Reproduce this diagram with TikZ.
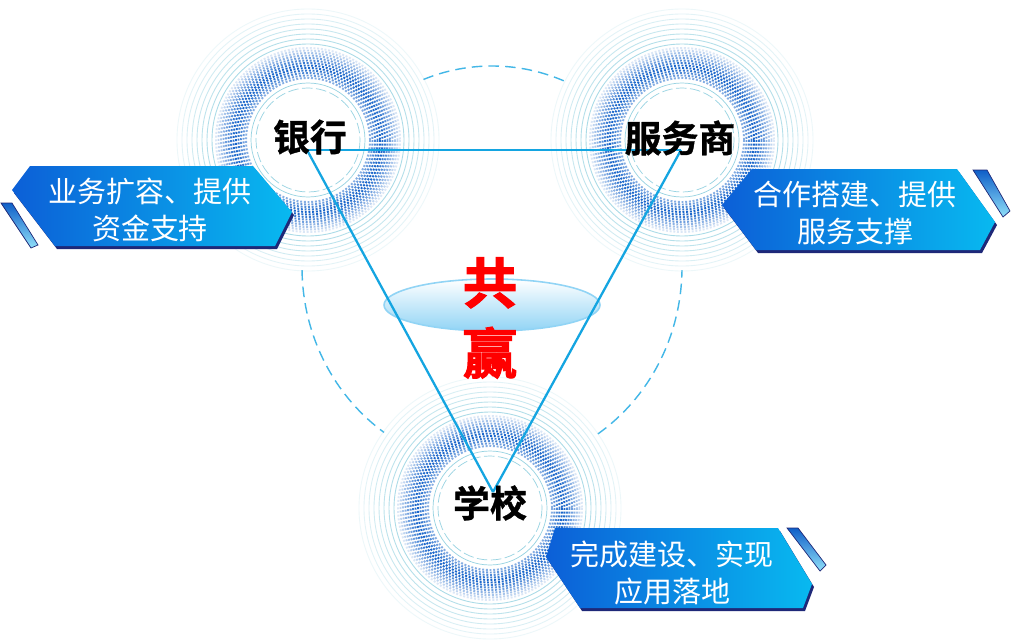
\documentclass[tikz,border=0pt]{standalone}
\usepackage{fontspec}
\newfontfamily\cjk{Noto Sans CJK SC}
\newfontfamily\cjkbold[FakeBold=1]{Noto Sans CJK SC Bold}
\newfontfamily\cjkheavy[FakeBold=2]{Noto Sans CJK SC Bold}
\usetikzlibrary{positioning,calc}
\definecolor{linkblue}{RGB}{20,165,225}
\definecolor{dotblue}{RGB}{15,95,200}
\definecolor{ringcyan}{RGB}{150,210,225}
\definecolor{bandark}{RGB}{12,95,215}
\definecolor{banlight}{RGB}{8,185,240}
\definecolor{bannavy}{RGB}{30,40,120}
\definecolor{lensblue}{RGB}{145,212,245}
\definecolor{winred}{RGB}{255,0,0}

\begin{document}
\begin{tikzpicture}[x=0.02cm, y=-0.02cm,
    hubtext/.style={font=\cjkbold\fontsize{21}{24}\selectfont},
    bantext/.style={font=\cjk\fontsize{16.5}{21.5}\selectfont, text=white, align=center},
    link/.style={linkblue, line width=1.3pt},
    banner/.style={left color=bandark, right color=banlight},
    strip/.style={top color=dotblue, bottom color=banlight!45, draw=bannavy, line width=0.4pt}]
    \fill[white] (0,0) rectangle (1013,642);
    \useasboundingbox (0,0) rectangle (1013,642);

    % dashed orbit behind the three hubs
    \draw[linkblue!80, line width=0.8pt, dash pattern=on 6pt off 3.5pt] (492,267) ellipse (190 and 201);

    % hubs: faint rings, dotted band, inner rings
    \foreach \hx/\hy in {308/140, 682/140, 490/508} {
        \fill[white] (\hx,\hy) circle (130);
        \foreach \r in {96,101,...,131} {
            \pgfmathsetmacro\op{max(0.15,0.8-(\r-96)*0.018)}
            \draw[ringcyan, line width=0.5pt, opacity=\op] (\hx,\hy) circle (\r);
        }
        \foreach \r in {62,64.5,...,94} {
            \pgfmathsetmacro\op{max(0.15,1-abs(\r-73)*0.045)}
            \draw[dotblue, line width=1.1pt, dash pattern=on 1.1pt off 1pt, opacity=\op] (\hx,\hy) circle (\r);
        }
        \draw[ringcyan, line width=0.4pt, dash pattern=on 6pt off 2pt] (\hx,\hy) circle (52);
        \draw[ringcyan, line width=0.4pt] (\hx,\hy) circle (57);
    }

    % banners
    \fill[bannavy] (32,169) -- (14,193) -- (57,249) -- (277,249) -- (294,215) -- (255,169) -- cycle;
    \shade[banner] (30,166) -- (12,190) -- (55,246) -- (275,246) -- (292,212) -- (253,166) -- cycle;
    \shade[strip] (1,203) -- (12,203) -- (38,245) -- (31,248) -- cycle;
    \node[bantext] (leftnote) at (150,210) {业务扩容、提供\\资金支持};

    \fill[bannavy] (754,172) -- (724,208) -- (758,253) -- (982,253) -- (997,225) -- (959,172) -- cycle;
    \shade[banner] (752,169) -- (722,205) -- (756,250) -- (980,250) -- (995,222) -- (957,169) -- cycle;
    \shade[strip] (973,170) -- (987,170) -- (1010,211) -- (1003,217) -- cycle;
    \node[bantext] (rightnote) at (855,213) {合作搭建、提供\\服务支撑};

    \fill[bannavy] (557,531) -- (548,560) -- (582,611) -- (805,611) -- (814,587) -- (780,531) -- cycle;
    \shade[banner] (555,528) -- (546,557) -- (580,608) -- (803,608) -- (812,584) -- (778,528) -- cycle;
    \shade[strip] (787,528) -- (798,528) -- (826,565) -- (820,571) -- cycle;
    \node[bantext] (bottomnote) at (672,573) {完成建设、实现\\应用落地};

    % centre lens
    \shade[top color=white, bottom color=lensblue, draw=lensblue, line width=0.9pt] (492,305) ellipse (108 and 26);

    % triangle
    \coordinate (bankpin) at (307,150);
    \coordinate (provpin) at (681,150);
    \coordinate (schoolpin) at (493,492);
    \draw[link] (bankpin) -- (provpin);
    \draw[link] (bankpin) -- (schoolpin);
    \draw[link] (provpin) -- (schoolpin);

    \node[hubtext] (bank) at (310,137) {银行};
    \node[hubtext] (provider) at (680,138) {服务商};
    \node[hubtext] (school) at (490,503) {学校};
    \node[font=\cjkheavy\fontsize{31}{40}\selectfont, text=winred, align=center] (win) at (490,318) {共\\赢};
\end{tikzpicture}
\end{document}
